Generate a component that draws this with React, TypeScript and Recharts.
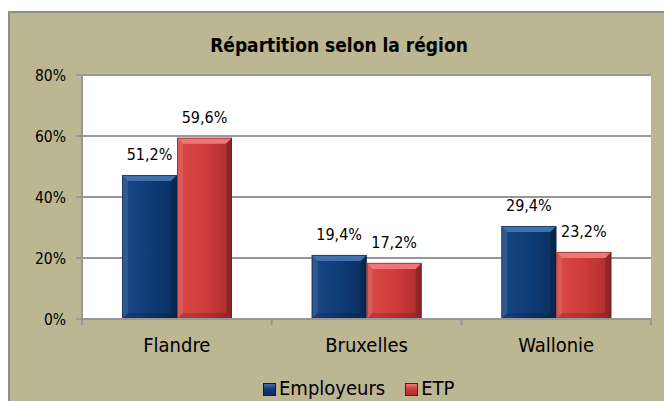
import { BarChart, Bar, XAxis, YAxis, CartesianGrid, LabelList } from 'recharts';

const regions = ['Flandre', 'Bruxelles', 'Wallonie'];
const employeurs = [47.2, 21.0, 30.5];
const etp = [59.4, 18.4, 22.0];
const employeursLabels = ['51,2%', '19,4%', '29,4%'];
const etpLabels = ['59,6%', '17,2%', '23,2%'];
const yTicks = [0, 20, 40, 60, 80];
const seriesNames = ['Employeurs', 'ETP'];

const data = regions.map((region, i) => ({
  region,
  employeurs: employeurs[i],
  etp: etp[i],
  employeursLabel: employeursLabels[i],
  etpLabel: etpLabels[i],
}));

const FONT = "'DejaVu Sans Condensed', 'DejaVu Sans', sans-serif";
const AXIS = '#979797';
const BG = '#BCB693';
const W = 664;
const H = 401;
const PLOT_LEFT = 82;
const PLOT_RIGHT = 13;
const TICK_SIZE = 6;
const TICK_MARGIN = 10;

const colors: Record<string, { face: string; left: string; right: string; top: string; edge: string }> = {
  employeurs: { face: '#103C76', left: '#1A4887', right: '#0B2E5E', top: '#4071AC', edge: '#061E40' },
  etp: { face: '#CF3C3C', left: '#DA4848', right: '#AC2C2C', top: '#EF7676', edge: '#6E1414' },
};

function BevelBar(props: any) {
  const { x, y, width: w, height: h, kind } = props;
  if (!h || h <= 0) return null;
  const c = colors[kind];
  const b = Math.min(6, h / 2);
  const id = `body-${kind}`;
  return (
    <g>
      <rect x={x} y={y} width={w} height={h} fill={`url(#${id})`} />
      <polygon points={`${x},${y} ${x + w},${y} ${x + w - b},${y + b} ${x + b},${y + b}`} fill={c.top} />
      <polygon points={`${x},${y} ${x + b},${y + b} ${x + b},${y + h - b} ${x},${y + h}`} fill="#fff" fillOpacity={0.1} />
      <polygon points={`${x + w},${y} ${x + w},${y + h} ${x + w - b},${y + h - b} ${x + w - b},${y + b}`} fill="#000" fillOpacity={0.18} />
      <polygon points={`${x},${y + h} ${x + w},${y + h} ${x + w - b},${y + h - b} ${x + b},${y + h - b}`} fill="#000" fillOpacity={0.15} />
      <rect x={x + 0.5} y={y + 0.5} width={w - 1} height={h - 1} fill="none" stroke={c.edge} strokeOpacity={0.55} />
    </g>
  );
}

function XTick(props: any) {
  const { x, y, payload, index, visibleTicksCount } = props;
  const band = (W - PLOT_LEFT - PLOT_RIGHT) / regions.length;
  const half = payload.offset > 0 ? payload.offset : band / 2;
  const axisY = y - TICK_SIZE - TICK_MARGIN;
  return (
    <g>
      <line x1={x - half} x2={x - half} y1={axisY} y2={axisY + 6} stroke={AXIS} strokeWidth={2} />
      {index === visibleTicksCount - 1 && (
        <line x1={x + half} x2={x + half} y1={axisY} y2={axisY + 6} stroke={AXIS} strokeWidth={2} />
      )}
      <text x={x} y={axisY + 33} textAnchor="middle" fontSize={20} fontFamily={FONT} fill="#000">
        {payload.value}
      </text>
    </g>
  );
}

export default function App() {
  return (
    <div style={{ position: 'absolute', left: 0, top: 0, width: W, height: H, overflow: 'hidden', background: '#fff' }}>
      <div
        style={{
          position: 'absolute',
          left: 8,
          top: 11,
          width: 700,
          height: 420,
          border: `2px solid #8C8C8C`,
          background: BG,
        }}
      />
      <div
        style={{
          position: 'absolute',
          left: 0,
          top: 33,
          width: 678,
          textAlign: 'center',
          fontFamily: FONT,
          fontWeight: 'bold',
          fontSize: 19,
          lineHeight: '24px',
          color: '#000',
        }}
      >
        Répartition selon la région
      </div>
      <div style={{ position: 'absolute', left: 0, top: 0 }}>
        <BarChart
          width={W}
          height={H}
          data={data}
          margin={{ top: 75, right: PLOT_RIGHT, left: 0, bottom: 0 }}
          barCategoryGap={40}
          barGap={0}
        >
          <defs>
            {Object.keys(colors).map((k) => (
              <linearGradient key={k} id={`body-${k}`} x1="0" y1="0" x2="1" y2="0">
                <stop offset="0%" stopColor={colors[k].left} />
                <stop offset="50%" stopColor={colors[k].face} />
                <stop offset="100%" stopColor={colors[k].right} />
              </linearGradient>
            ))}
          </defs>
          <CartesianGrid vertical={false} stroke={AXIS} strokeWidth={2} fill="#fff" fillOpacity={1} />
          <XAxis
            dataKey="region"
            height={H - 319}
            axisLine={{ stroke: AXIS, strokeWidth: 2 }}
            tickLine={false}
            tickSize={TICK_SIZE}
            tickMargin={TICK_MARGIN}
            tick={<XTick />}
            interval={0}
          />
          <YAxis
            width={PLOT_LEFT}
            domain={[0, 80]}
            ticks={yTicks}
            tickFormatter={(v) => `${v}%`}
            axisLine={{ stroke: AXIS, strokeWidth: 2 }}
            tickLine={{ stroke: AXIS, strokeWidth: 2 }}
            tickSize={6}
            tickMargin={10}
            tick={{ fontSize: 15.5, fontFamily: FONT, fill: '#000' }}
          />
          <Bar dataKey="employeurs" isAnimationActive={false} shape={(p: any) => <BevelBar {...p} kind="employeurs" />}>
            <LabelList dataKey="employeursLabel" position="top" offset={15} fontSize={16} fontFamily={FONT} fill="#000" />
          </Bar>
          <Bar dataKey="etp" isAnimationActive={false} shape={(p: any) => <BevelBar {...p} kind="etp" />}>
            <LabelList dataKey="etpLabel" position="top" offset={15} fontSize={16} fontFamily={FONT} fill="#000" />
          </Bar>
        </BarChart>
      </div>
      <div
        style={{
          position: 'absolute',
          left: 263,
          top: 377,
          display: 'flex',
          gap: 20,
          fontFamily: FONT,
          fontSize: 20,
          lineHeight: '22px',
          color: '#000',
        }}
      >
        {seriesNames.map((name, i) => {
          const c = colors[i === 0 ? 'employeurs' : 'etp'];
          return (
            <div key={name} style={{ display: 'flex', alignItems: 'center' }}>
              <span
                style={{
                  display: 'inline-block',
                  width: 13,
                  height: 13,
                  marginRight: 3,
                  marginTop: 3,
                  background: `linear-gradient(180deg, ${c.top} 0%, ${c.face} 45%, ${c.right} 100%)`,
                  border: `1px solid ${c.edge}`,
                  boxSizing: 'border-box',
                }}
              />
              {name}
            </div>
          );
        })}
      </div>
    </div>
  );
}
